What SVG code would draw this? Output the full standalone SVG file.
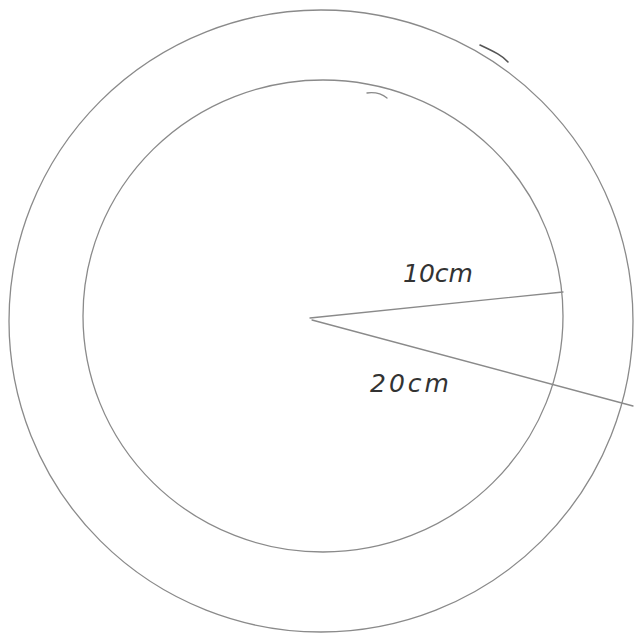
<svg xmlns="http://www.w3.org/2000/svg" width="636" height="637" viewBox="0 0 636 637">
<style>
.pen{fill:none;stroke:#8a8a8a;stroke-width:1.3;stroke-linecap:round;stroke-linejoin:round}
.dark{fill:none;stroke:#555;stroke-width:1.6;stroke-linecap:round}
.lbl{font-family:"DejaVu Sans",sans-serif;font-size:25px;fill:#333;font-style:italic}
</style>
<rect width="636" height="637" fill="#fff"/>
<g id="outer-circle">
<ellipse class="pen" cx="321" cy="321" rx="312" ry="311"/>
<path class="dark" d="M480,45 C495,52 503,56 508,62"/>
</g>
<g id="inner-circle">
<ellipse class="pen" cx="323" cy="316" rx="240" ry="236"/>
<path class="pen" d="M367,93 C375,92 382,94 387,98"/>
</g>
<g id="connectors">
<path class="pen" d="M310,318 L563,292"/>
<path class="pen" d="M312,320 L633,406"/>
</g>
<g id="label-10cm"><text class="lbl" x="403" y="282">10cm</text></g>
<g id="label-20cm"><text class="lbl" x="370" y="392" letter-spacing="3">20cm</text></g>
</svg>
